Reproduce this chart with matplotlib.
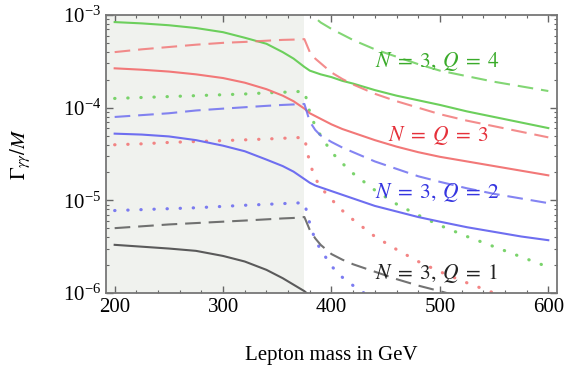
import numpy as np
import matplotlib
matplotlib.use('Agg')
import matplotlib.pyplot as plt
from matplotlib.ticker import MultipleLocator, LogLocator, NullFormatter

plt.rcParams['font.family'] = ['Liberation Serif', 'DejaVu Serif']
plt.rcParams['mathtext.fontset'] = 'stix'

# lepton mass grid (GeV) and log10(Gamma_gg/M)
mass = [200, 225, 250, 275, 300, 320, 340, 355, 365, 375, 380, 385, 390, 400,
        410, 420, 440, 460, 480, 500, 525, 550, 575, 600]
nan = np.nan

# N=3, Q=4 (green)
q4_solid = [-3.076, -3.09, -3.11, -3.14, -3.185, -3.245, -3.31, -3.40, -3.47, -3.56, -3.60, -3.62, -3.64, -3.67,
            -3.71, -3.74, -3.81, -3.87, -3.92, -3.97, -4.04, -4.10, -4.16, -4.22]
q4_dashed = [nan, nan, nan, nan, nan, nan, nan, nan, nan, -2.85, -2.93, -3.03, -3.08, -3.15,
             -3.21, -3.27, -3.37, -3.45, -3.53, -3.60, -3.66, -3.72, -3.77, -3.82]
q4_dotted = [-3.90, -3.89, -3.88, -3.87, -3.86, -3.852, -3.84, -3.833, -3.83, -3.82, -4.05, -4.20, -4.30, -4.48,
             -4.60, -4.71, -4.89, -5.04, -5.16, -5.27, -5.39, -5.50, -5.61, -5.72]
# N=Q=3 (red)
q3_solid = [-3.575, -3.59, -3.61, -3.64, -3.68, -3.73, -3.80, -3.87, -3.93, -4.01, -4.06, -4.09, -4.12, -4.18,
            -4.23, -4.27, -4.35, -4.42, -4.48, -4.53, -4.58, -4.63, -4.68, -4.73]
q3_dashed = [-3.40, -3.37, -3.345, -3.32, -3.30, -3.29, -3.277, -3.268, -3.265, -3.26, -3.40, -3.47, -3.52, -3.62,
             -3.69, -3.75, -3.85, -3.93, -4.00, -4.07, -4.14, -4.20, -4.26, -4.32]
q3_dotted = [-4.40, -4.39, -4.375, -4.365, -4.355, -4.347, -4.338, -4.33, -4.325, -4.32, -4.60, -4.76, -4.86, -4.99,
             -5.11, -5.21, -5.39, -5.53, -5.66, -5.77, -5.89, -6.00, -6.10, nan]
# N=3, Q=2 (blue)
q2_solid = [-4.28, -4.29, -4.31, -4.35, -4.41, -4.47, -4.56, -4.63, -4.69, -4.77, -4.81, -4.84, -4.86, -4.90,
            -4.94, -4.98, -5.06, -5.12, -5.18, -5.23, -5.29, -5.34, -5.39, -5.43]
q2_dashed = [-4.10, -4.08, -4.06, -4.03, -4.01, -3.995, -3.98, -3.97, -3.965, -3.96, -4.15, -4.24, -4.30, -4.37,
             -4.43, -4.48, -4.58, -4.66, -4.74, -4.80, -4.87, -4.93, -4.98, -5.03]
q2_dotted = [-5.11, -5.10, -5.09, -5.08, -5.065, -5.053, -5.043, -5.035, -5.03, -5.025, -5.25, -5.43, -5.53, -5.71,
             -5.83, -5.92, -6.08, nan, nan, nan, nan, nan, nan, nan]
# N=3, Q=1 (black)
q1_solid = [-5.48, -5.50, -5.52, -5.545, -5.60, -5.66, -5.75, -5.84, -5.91, -5.98, -6.03, nan, nan, nan,
            nan, nan, nan, nan, nan, nan, nan, nan, nan, nan]
q1_dashed = [-5.30, -5.28, -5.26, -5.245, -5.23, -5.218, -5.205, -5.195, -5.19, -5.18, -5.32, -5.41, -5.48, -5.58,
             -5.64, -5.69, -5.77, -5.85, -5.92, -5.98, -6.06, nan, nan, nan]

labels = [r'$N\;=\;3,\;Q\;=\;4$', r'$N\;=\;Q\;=\;3$', r'$N\;=\;3,\;Q\;=\;2$', r'$N\;=\;3,\;Q\;=\;1$']
label_x = [498, 499, 498, 497]
label_y = [-3.50, -4.30, -4.92, -5.79]

green, red, blue, grey = '#6ccf5c', '#f27878', '#6e6ef0', '#5a5a5a'
text_colors = ['#3aab2a', '#e5303a', '#3535e0', '#222222']

fig = plt.figure(figsize=(5.65, 3.67), dpi=100)
ax = fig.add_axes([0.1876, 0.2016, 0.7982, 0.7574])

ax.axvspan(190, 375, color='#f0f2ee', zorder=0, lw=0)

x = np.array(mass)
dash = (0, (7.5, 3.8))
dot = (0, (0.1, 4))
curves = [
    (q4_solid, green, '-'), (q4_dashed, green, dash), (q4_dotted, green, dot),
    (q3_solid, red, '-'), (q3_dashed, red, dash), (q3_dotted, red, dot),
    (q2_solid, blue, '-'), (q2_dashed, blue, dash), (q2_dotted, blue, dot),
    (q1_solid, grey, '-'), (q1_dashed, grey, dash),
]
for vals, col, ls in curves:
    y = 10.0 ** np.array(vals)
    if ls is dot:
        ax.plot(x, y, color=col, ls=ls, lw=2.3, dash_capstyle='round', alpha=0.9)
    elif ls is dash:
        ax.plot(x, y, color=col, ls=ls, lw=1.5, alpha=0.85)
    else:
        ax.plot(x, y, color=col, ls=ls, lw=1.5)

for t, lx, ly, c in zip(labels, label_x, label_y, text_colors):
    ax.text(lx, 10.0 ** ly, t, color=c, fontsize=15.5, ha='center', va='center')

ax.set_yscale('log')
ax.set_xlim(192, 608)
ax.set_ylim(1e-6, 1e-3)
ax.xaxis.set_major_locator(MultipleLocator(100))
ax.xaxis.set_minor_locator(MultipleLocator(20))
ax.yaxis.set_major_locator(LogLocator(base=10, numticks=10))
ax.yaxis.set_minor_locator(LogLocator(base=10, subs=np.arange(2, 10), numticks=10))
ax.yaxis.set_minor_formatter(NullFormatter())
ax.tick_params(which='both', direction='in', top=True, right=True, color='#666666', labelsize=15)
ax.tick_params(which='major', length=5, width=1)
ax.tick_params(which='minor', length=2.5, width=0.8)
for s in ax.spines.values():
    s.set_color('#777777')
    s.set_linewidth(1.3)

ax.set_xlabel('Lepton mass in GeV', fontsize=15, labelpad=21)
ax.set_ylabel(r'$\Gamma_{\gamma\gamma}/M$', fontsize=15)
ax.yaxis.set_label_coords(-0.162, 0.5)

fig.savefig('out.png', dpi=100)
